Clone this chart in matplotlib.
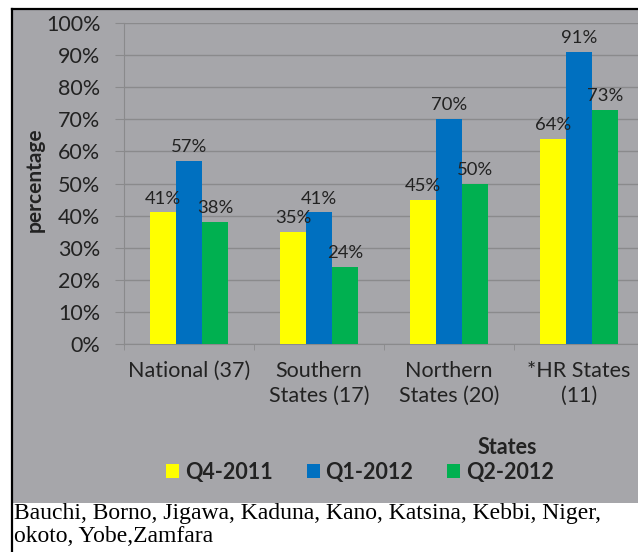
import matplotlib.pyplot as plt
from matplotlib.patches import Rectangle, Patch
from matplotlib.lines import Line2D
import numpy as np

categories = ['National (37)', 'Southern\nStates (17)', 'Northern\nStates (20)', '*HR States\n(11)']
quarters = ['Q4-2011', 'Q1-2012', 'Q2-2012']
q4_2011 = [41, 35, 45, 64]
q1_2012 = [57, 41, 70, 91]
q2_2012 = [38, 24, 50, 73]
yticks = [0, 10, 20, 30, 40, 50, 60, 70, 80, 90, 100]
footnote = 'Bauchi, Borno, Jigawa, Kaduna, Kano, Katsina, Kebbi, Niger,\nokoto, Yobe,Zamfara'

colors = ['#FFFF00', '#0070C0', '#00B050']
panel = '#a6a6aa'
grid = '#8a8a8c'
txt = '#222222'
font = 'Lato'

W, H = 638, 552
fig = plt.figure(figsize=(W / 100, H / 100), dpi=100)


def fx(px):
    return px / W


def fy(py):
    return 1 - py / H


# grey chart panel + black frame (left and top edges visible)
fig.add_artist(Rectangle((fx(12), fy(503)), 1.05, fy(9) - fy(503), transform=fig.transFigure,
                         facecolor=panel, edgecolor='none', zorder=-3))
fig.add_artist(Line2D([fx(12), fx(12)], [fy(9), -0.01], transform=fig.transFigure,
                      color='black', lw=1.6, zorder=-2))
fig.add_artist(Line2D([fx(12), 1.01], [fy(9), fy(9)], transform=fig.transFigure,
                      color='black', lw=1.6, zorder=-2))

ax = fig.add_axes([fx(124), fy(344), 520 / W, 321 / H])
ax.set_facecolor('none')

x = np.arange(len(categories))
width = 0.2
for i, (vals, c) in enumerate(zip([q4_2011, q1_2012, q2_2012], colors)):
    xs = x + (i - 1) * width
    ax.bar(xs, vals, width, color=c, zorder=3, label=quarters[i])
    for xi, v in zip(xs, vals):
        ax.annotate(f'{v}%', (xi, v), xytext=(0, 10), textcoords='offset points',
                    ha='center', va='center', fontsize=13.3, color=txt, family=font, zorder=4)

ax.set_xlim(-0.5, 3.5)
ax.set_ylim(0, 100)
ax.set_yticks(yticks)
ax.set_yticklabels([f'{t}%' for t in yticks], family=font)
ax.set_xticks(x)
ax.set_xticklabels(categories, family=font, linespacing=1.3)
ax.set_xticks([-0.5, 0.5, 1.5, 2.5, 3.5], minor=True)
ax.grid(axis='y', color=grid, lw=1, zorder=0)

for s in ['top', 'right']:
    ax.spines[s].set_visible(False)
ax.spines['left'].set_color(grid)
ax.spines['bottom'].set_color(grid)

ax.tick_params(axis='y', length=6.5, color=grid, pad=10.5, labelsize=15.5, labelcolor=txt)
ax.tick_params(axis='x', which='major', length=0, pad=12, labelsize=15.5, labelcolor=txt)
ax.tick_params(axis='x', which='minor', length=4, color=grid)

fig.text(fx(35), fy(180), 'percentage', rotation=90, ha='center', va='center',
         fontsize=15, fontweight='bold', family=font, color=txt)
fig.text(fx(507), fy(447), 'States', ha='center', va='center',
         fontsize=15.5, fontweight='bold', family=font, color=txt)

handles = [Patch(facecolor=c, edgecolor='none', label=q) for c, q in zip(colors, quarters)]
fig.legend(handles=handles, loc='center', bbox_to_anchor=(fx(360), fy(472)), ncol=3,
           frameon=False, prop=dict(family=font, weight='bold', size=15.5),
           handlelength=0.6, handleheight=0.6, handletextpad=0.25, columnspacing=1.6,
           labelcolor=txt)

fig.text(fx(14), fy(503), footnote, ha='left', va='top', fontsize=17,
         family='Liberation Serif', color='black', linespacing=1.1)

plt.savefig('out.png', dpi=100)
